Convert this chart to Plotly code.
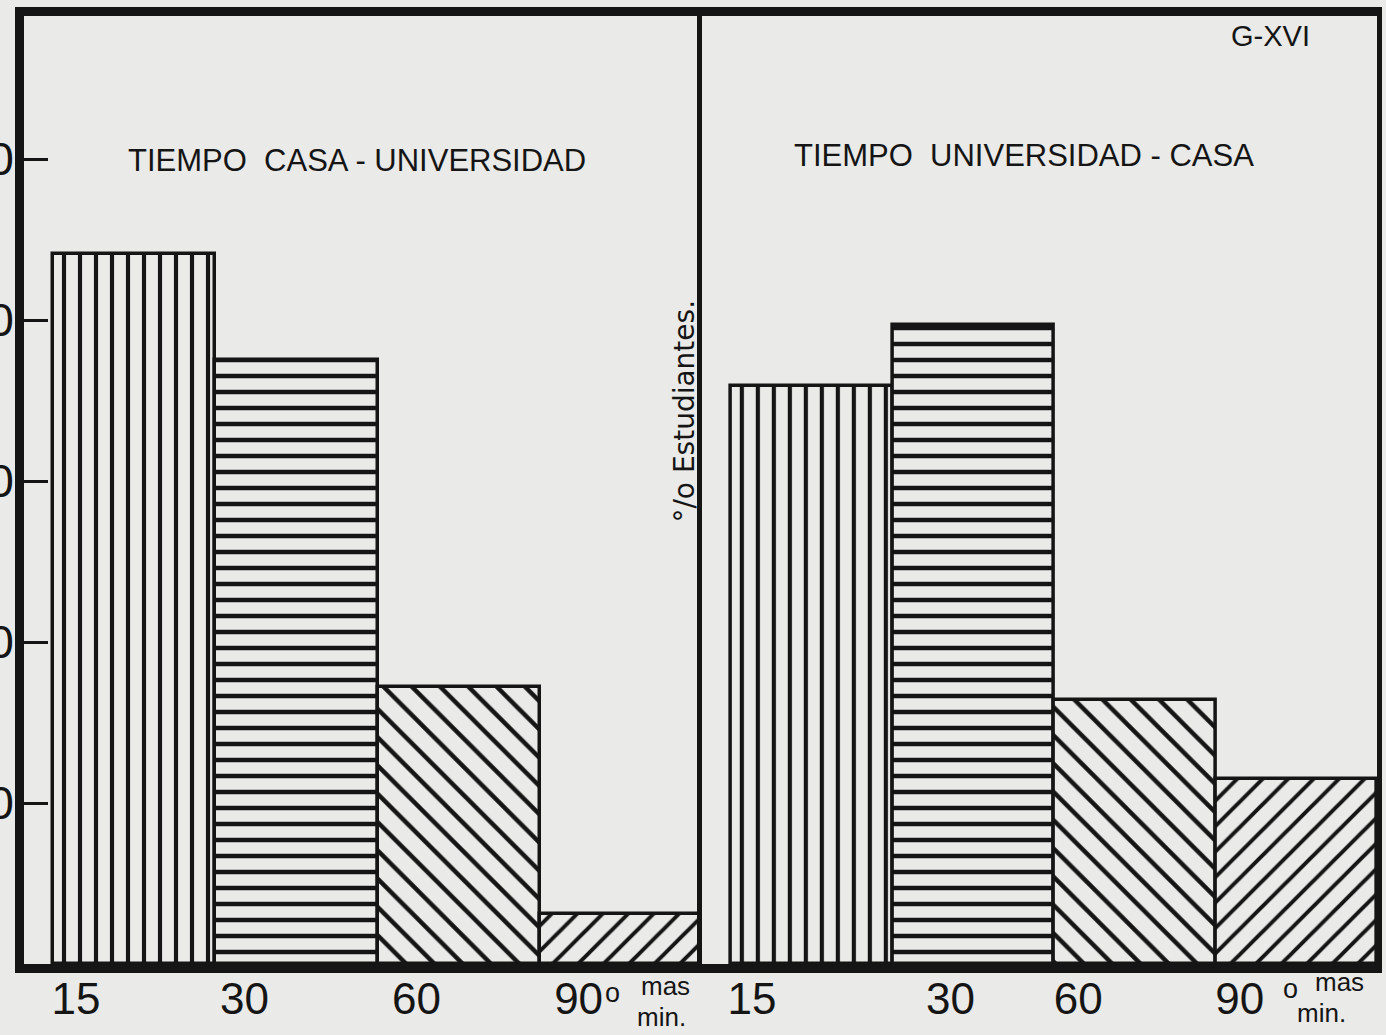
import plotly.graph_objects as go

# ---- data ----
categories = ["15", "30", "60", "90"]
casa_universidad = [44.1, 37.5, 17.2, 3.1]      # TIEMPO CASA-UNIVERSIDAD (% estudiantes)
universidad_casa = [35.9, 39.7, 16.4, 11.5]     # TIEMPO UNIVERSIDAD-CASA (% estudiantes)
y_tick_values = [10, 20, 30, 40, 50]
y_tick_labels = ["10", "20", "30", "40", "50"]

# ---- style ----
BG = "#EAEAE8"
INK = "#151515"
SANS = "Liberation Sans, Arial, sans-serif"

shapes_left = ["|", "-", "\\", "/"]
shapes_right = ["|", "-", "\\", "/"]
pat_size = [16, 16, 20, 18]
pat_solid = [0.26, 0.28, 0.22, 0.22]

pos = list(range(len(categories)))

fig = go.Figure()
for xa, ya, vals in [("x", "y", casa_universidad), ("x2", "y2", universidad_casa)]:
    fig.add_trace(go.Bar(
        x=pos, y=vals, width=1, xaxis=xa, yaxis=ya,
        marker=dict(color=BG, line=dict(color=INK, width=3.5),
                    pattern=dict(shape=shapes_left if xa == "x" else shapes_right,
                                 size=pat_size, solidity=pat_solid,
                                 fgcolor=INK, fgopacity=1, bgcolor=BG)),
        showlegend=False, hoverinfo="skip"))

left_off = [-0.36, -0.32, -0.26, -0.26]
right_off = [-0.37, -0.14, -0.35, -0.35]

xcommon = dict(showgrid=False, zeroline=False, showline=True, linecolor=INK, linewidth=9,
               mirror=True, ticks="", range=[-0.68, 3.5], fixedrange=True, automargin=False,
               tickfont=dict(family=SANS, size=44, color=INK), ticklabelstandoff=-12)

fig.update_layout(
    width=1386, height=1035,
    paper_bgcolor=BG, plot_bgcolor=BG,
    margin=dict(l=24, r=9, t=16, b=71, autoexpand=False),
    bargap=0,
    xaxis=dict(domain=[0, 0.501], tickvals=[p + o for p, o in zip(pos, left_off)],
               ticktext=categories, anchor="y", **xcommon),
    xaxis2=dict(domain=[0.501, 1], tickvals=[p + o for p, o in zip(pos, right_off)],
                ticktext=categories, anchor="y2", **xcommon),
    yaxis=dict(range=[0, 58.9], showgrid=False, zeroline=False, showline=True,
               linecolor=INK, linewidth=9, ticks="inside", ticklen=24, tickwidth=3,
               tickcolor=INK, tickvals=y_tick_values, ticktext=y_tick_labels,
               tickfont=dict(family=SANS, size=46, color=INK), anchor="x",
               ticklabelstandoff=-8, fixedrange=True, automargin=False),
    yaxis2=dict(range=[0, 58.9], showgrid=False, zeroline=False, showline=True,
                linecolor=INK, linewidth=5, mirror=True, ticks="", showticklabels=False,
                anchor="x2", fixedrange=True, automargin=False),
)

ann = []
ann.append(dict(text="TIEMPO\u00a0\u00a0CASA - UNIVERSIDAD", xref="paper", yref="paper",
                x=0.246, y=0.848, xanchor="center", yanchor="middle", showarrow=False,
                font=dict(family=SANS, size=31, color=INK)))
ann.append(dict(text="TIEMPO\u00a0\u00a0UNIVERSIDAD - CASA", xref="paper", yref="paper",
                x=0.739, y=0.853, xanchor="center", yanchor="middle", showarrow=False,
                font=dict(family=SANS, size=31, color=INK)))
ann.append(dict(text="G-XVI", xref="paper", yref="paper", x=0.921, y=0.979,
                xanchor="center", yanchor="middle",
                showarrow=False, font=dict(family=SANS, size=29, color=INK)))
ann.append(dict(text="°/o Estudiantes.", xref="paper", yref="paper", x=0.488, y=0.583,
                xanchor="center", yanchor="middle", textangle=-90, showarrow=False,
                font=dict(family="DejaVu Sans, sans-serif", size=28, color=INK)))
# "o mas / min." after the 90 labels
for xr, base, dx_o, dx_mas, dx_min, dy in [("x", 3 + left_off[3], 34, 87, 83, 0),
                                           ("x2", 3 + right_off[3], 51, 100, 82, 4)]:
    ann.append(dict(text="o", xref=xr, yref="paper", x=base, xshift=dx_o, y=0,
                    yshift=-29 + dy, xanchor="center", yanchor="middle",
                    showarrow=False, font=dict(family=SANS, size=27, color=INK)))
    ann.append(dict(text="mas", xref=xr, yref="paper", x=base, xshift=dx_mas, y=0,
                    yshift=-22 + dy, xanchor="center", yanchor="middle",
                    showarrow=False, font=dict(family=SANS, size=26, color=INK)))
    ann.append(dict(text="min.", xref=xr, yref="paper", x=base, xshift=dx_min, y=0,
                    yshift=-53 + dy, xanchor="center", yanchor="middle",
                    showarrow=False, font=dict(family=SANS, size=26, color=INK)))
fig.update_layout(annotations=ann)

fig.write_html("out.html", config={"displayModeBar": False},
               post_script="document.body.style.margin='0';"
                           "document.body.style.background='#EAEAE8';"
                           "document.body.style.overflow='hidden';")
